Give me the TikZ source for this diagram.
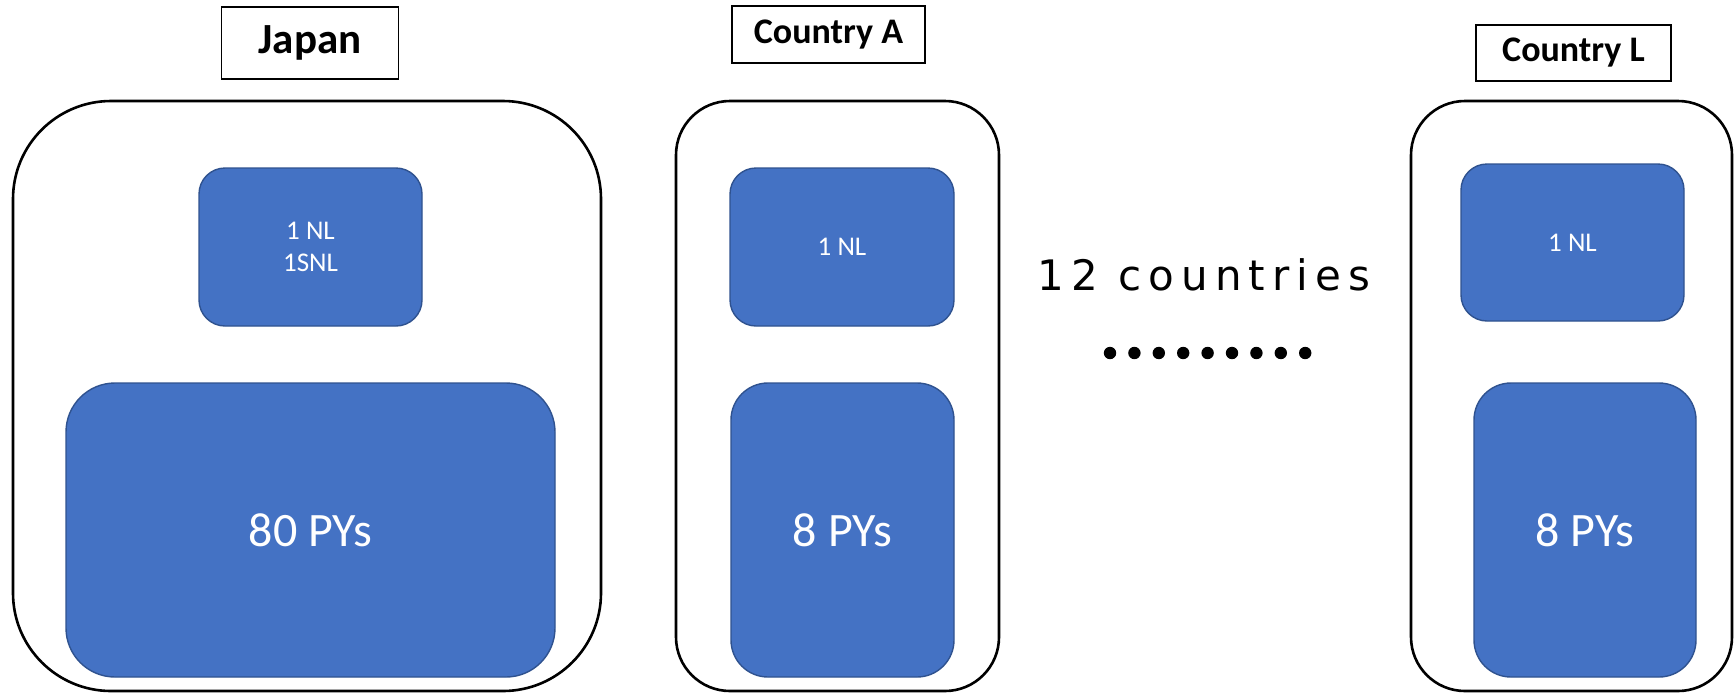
\documentclass[tikz,border=0pt]{standalone}
\usepackage{fontspec}
\setmainfont{Carlito}
\newfontfamily\countfont[LetterSpace=17]{DejaVu Sans}
\definecolor{boxblue}{HTML}{4472C4}
\definecolor{boxedge}{HTML}{2F528F}
\tikzset{
  title/.style={draw=black, line width=0.75pt, inner sep=0pt,
    font=\bfseries\fontsize{18}{22}\selectfont},
  outer/.style={draw=black, line width=1.3pt, inner sep=0pt},
  panel/.style={draw=boxedge, fill=boxblue, line width=0.7pt, text=white,
    inner sep=0pt, align=center},
  small/.style={font=\fontsize{13.5}{16}\selectfont},
  big/.style={font=\fontsize{24}{28}\selectfont},
}

\begin{document}
\begin{tikzpicture}[x=0.5pt,y=-0.5pt]
  \useasboundingbox (0,0) rectangle (1735,692);
  % Japan
  \node[title, minimum width=88.5pt, minimum height=36pt, font=\bfseries\fontsize{21.5}{26}\selectfont] (jptitle) at (310,43) {Japan};
  \node[outer, minimum width=294pt, minimum height=295pt, rounded corners=49pt] (jp) at (307,396) {};
  \node[panel, small, minimum width=111.5pt, minimum height=79pt, rounded corners=13pt] (jpnl) at (310.5,247) {1 NL\\1SNL};
  \node[panel, big, minimum width=244.5pt, minimum height=147pt, rounded corners=24.5pt] (jppy) at (310.5,530) {80 PYs};
  % Country A
  \node[title, minimum width=96.5pt, minimum height=28.5pt] (atitle) at (828.5,34.5) {Country A};
  \node[outer, minimum width=161.5pt, minimum height=295pt, rounded corners=27pt] (ca) at (837.5,396) {};
  \node[panel, small, minimum width=112pt, minimum height=79pt, rounded corners=13pt] (canl) at (842,247) {1 NL};
  \node[panel, big, minimum width=111.5pt, minimum height=147pt, rounded corners=18.5pt] (capy) at (842.5,530) {8 PYs};
  % the other countries
  \node[anchor=base, font=\countfont\fontsize{21}{25}\selectfont] (count) at (1204,290) {12 countries};
  \foreach \i in {0,...,8}
    \fill (1110+24.4*\i,353) circle (3.1pt);
  % Country L
  \node[title, minimum width=97.5pt, minimum height=28pt] (ltitle) at (1573.5,53) {Country L};
  \node[outer, minimum width=160.5pt, minimum height=295pt, rounded corners=27pt] (cl) at (1571.5,396) {};
  \node[panel, small, minimum width=111.5pt, minimum height=78.5pt, rounded corners=13pt] (clnl) at (1572.5,242.5) {1 NL};
  \node[panel, big, minimum width=111pt, minimum height=147pt, rounded corners=18.5pt] (clpy) at (1585,530) {8 PYs};
\end{tikzpicture}
\end{document}
